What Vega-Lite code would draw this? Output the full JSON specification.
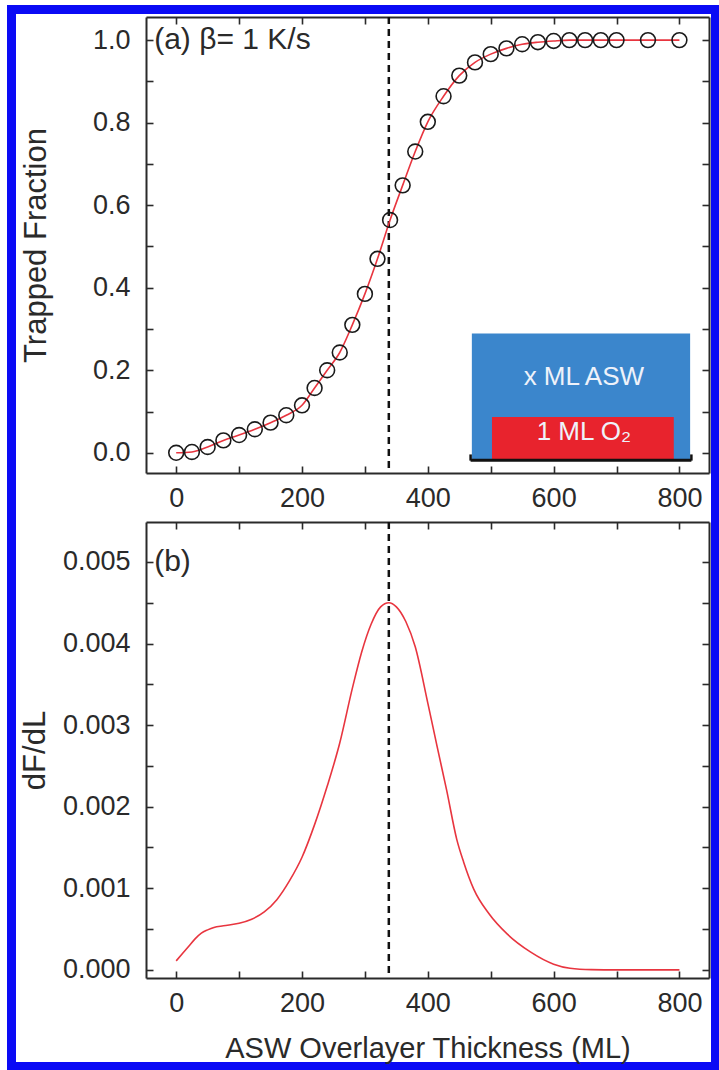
{
  "$schema": "https://vega.github.io/schema/vega-lite/v6.json",
  "autosize": "none",
  "padding": {"left": 146, "top": 17, "right": 573, "bottom": 1053},
  "background": "white",
  "config": {
    "font": "Liberation Sans",
    "view": {"stroke": null},
    "legend": {"strokeColor": "#0a0af5", "strokeWidth": 9, "padding": 0},
    "axis": {
      "grid": false,
      "domainColor": "#2a2a2a",
      "domainWidth": 2,
      "tickColor": "#2a2a2a",
      "tickWidth": 1.6,
      "tickSize": -7,
      "labelFont": "Liberation Sans",
      "labelFontSize": 27,
      "labelColor": "#2a2a2a",
      "labelOverlap": false,
      "labelFlush": false,
      "titleFont": "Liberation Sans",
      "titleFontSize": 29,
      "titleFontWeight": "normal",
      "titleColor": "#2a2a2a"
    }
  },
  "datasets": {
    "frac": [
      {"thickness": 0, "fraction": 0.0},
      {"thickness": 25, "fraction": 0.002},
      {"thickness": 50, "fraction": 0.014},
      {"thickness": 75, "fraction": 0.030},
      {"thickness": 100, "fraction": 0.043},
      {"thickness": 125, "fraction": 0.057},
      {"thickness": 150, "fraction": 0.073},
      {"thickness": 175, "fraction": 0.091},
      {"thickness": 200, "fraction": 0.115},
      {"thickness": 220, "fraction": 0.157},
      {"thickness": 240, "fraction": 0.200},
      {"thickness": 260, "fraction": 0.243},
      {"thickness": 280, "fraction": 0.310},
      {"thickness": 300, "fraction": 0.385},
      {"thickness": 320, "fraction": 0.470},
      {"thickness": 340, "fraction": 0.564},
      {"thickness": 360, "fraction": 0.648},
      {"thickness": 380, "fraction": 0.730},
      {"thickness": 400, "fraction": 0.802},
      {"thickness": 425, "fraction": 0.864},
      {"thickness": 450, "fraction": 0.914},
      {"thickness": 475, "fraction": 0.946},
      {"thickness": 500, "fraction": 0.966},
      {"thickness": 525, "fraction": 0.980},
      {"thickness": 550, "fraction": 0.990},
      {"thickness": 575, "fraction": 0.995},
      {"thickness": 600, "fraction": 0.998},
      {"thickness": 625, "fraction": 1.0},
      {"thickness": 650, "fraction": 1.0},
      {"thickness": 675, "fraction": 1.0},
      {"thickness": 700, "fraction": 1.0},
      {"thickness": 750, "fraction": 1.0},
      {"thickness": 800, "fraction": 1.0}
    ],
    "deriv": [
      {"thickness": 0, "dfdl": 0.00011},
      {"thickness": 10, "dfdl": 0.0002},
      {"thickness": 20, "dfdl": 0.00029},
      {"thickness": 30, "dfdl": 0.00038},
      {"thickness": 40, "dfdl": 0.00045},
      {"thickness": 50, "dfdl": 0.00049},
      {"thickness": 60, "dfdl": 0.00052},
      {"thickness": 75, "dfdl": 0.00054},
      {"thickness": 100, "dfdl": 0.00057},
      {"thickness": 120, "dfdl": 0.00062},
      {"thickness": 140, "dfdl": 0.00071},
      {"thickness": 160, "dfdl": 0.00086},
      {"thickness": 180, "dfdl": 0.00109},
      {"thickness": 200, "dfdl": 0.00138},
      {"thickness": 220, "dfdl": 0.00178},
      {"thickness": 240, "dfdl": 0.00225},
      {"thickness": 260, "dfdl": 0.00278},
      {"thickness": 280, "dfdl": 0.00345},
      {"thickness": 295, "dfdl": 0.0039},
      {"thickness": 310, "dfdl": 0.00424},
      {"thickness": 325, "dfdl": 0.00445},
      {"thickness": 338, "dfdl": 0.0045},
      {"thickness": 350, "dfdl": 0.00445},
      {"thickness": 365, "dfdl": 0.00427},
      {"thickness": 380, "dfdl": 0.00396},
      {"thickness": 400, "dfdl": 0.00327},
      {"thickness": 415, "dfdl": 0.00273},
      {"thickness": 430, "dfdl": 0.0022},
      {"thickness": 446, "dfdl": 0.0016},
      {"thickness": 457, "dfdl": 0.00132},
      {"thickness": 473, "dfdl": 0.00099},
      {"thickness": 497, "dfdl": 0.00069},
      {"thickness": 526, "dfdl": 0.00044},
      {"thickness": 563, "dfdl": 0.00022},
      {"thickness": 600, "dfdl": 0.00007},
      {"thickness": 626, "dfdl": 0.00002},
      {"thickness": 660, "dfdl": 0.000003},
      {"thickness": 700, "dfdl": 0.0},
      {"thickness": 800, "dfdl": 0.0}
    ],
    "insetBoxes": [
      {"layer": "x ML ASW", "x1": 470, "x2": 817, "y1": -0.016, "y2": 0.289, "colour": "blue"},
      {"layer": "1 ML O2", "x1": 502, "x2": 791, "y1": -0.016, "y2": 0.087, "colour": "red"}
    ],
    "insetLabels": [
      {"label": "x ML ASW", "x": 648, "y": 0.183},
      {"label": "1 ML O₂", "x": 648, "y": 0.05}
    ],
    "substrate": [
      {"x1": 468, "x2": 819, "y": -0.018}
    ],
    "substrateEnds": [
      {"x": 468, "y1": -0.019, "y2": -0.004},
      {"x": 819, "y1": -0.019, "y2": -0.004}
    ],
    "panelA": [{"label": "(a) β= 1 K/s", "x": -35, "y": 1.0}],
    "panelB": [{"label": "(b)", "x": -35, "y": 0.005}],
    "peak": [{"thickness": 338}]
  },
  "bounds": "flush",
  "spacing": 49,
  "vconcat": [
    {
      "width": 563,
      "height": 456,
      "resolve": {"axis": {"x": "independent", "y": "independent"}},
      "layer": [
        {
          "data": {"name": "insetBoxes"},
          "mark": {"type": "rect"},
          "encoding": {
            "x": {"field": "x1", "type": "quantitative", "scale": {"domain": [-48, 847], "nice": false, "zero": false}, "axis": null},
            "x2": {"field": "x2"},
            "y": {"field": "y1", "type": "quantitative", "scale": {"domain": [-0.049, 1.056], "nice": false, "zero": false}, "axis": null},
            "y2": {"field": "y2"},
            "color": {"field": "colour", "type": "nominal", "scale": {"domain": ["blue", "red"], "range": ["#3b86cc", "#e8232d"]}, "legend": null}
          }
        },
        {
          "data": {"name": "substrate"},
          "mark": {"type": "rule", "color": "#111111", "strokeWidth": 3},
          "encoding": {
            "x": {"field": "x1", "type": "quantitative", "scale": {"domain": [-48, 847], "nice": false, "zero": false}, "axis": null},
            "x2": {"field": "x2"},
            "y": {"field": "y", "type": "quantitative", "scale": {"domain": [-0.049, 1.056], "nice": false, "zero": false}, "axis": null}
          }
        },
        {
          "data": {"name": "substrateEnds"},
          "mark": {"type": "rule", "color": "#111111", "strokeWidth": 2.5},
          "encoding": {
            "x": {"field": "x", "type": "quantitative", "scale": {"domain": [-48, 847], "nice": false, "zero": false}, "axis": null},
            "y": {"field": "y1", "type": "quantitative", "scale": {"domain": [-0.049, 1.056], "nice": false, "zero": false}, "axis": null},
            "y2": {"field": "y2"}
          }
        },
        {
          "data": {"name": "insetLabels"},
          "mark": {"type": "text", "color": "#eef2fa", "fontSize": 26, "font": "Liberation Sans", "align": "center", "baseline": "middle"},
          "encoding": {
            "x": {"field": "x", "type": "quantitative", "scale": {"domain": [-48, 847], "nice": false, "zero": false}, "axis": null},
            "y": {"field": "y", "type": "quantitative", "scale": {"domain": [-0.049, 1.056], "nice": false, "zero": false}, "axis": null},
            "text": {"field": "label"}
          }
        },
        {
          "data": {"name": "peak"},
          "mark": {"type": "rule", "strokeWidth": 2.5, "strokeDash": [7, 5]},
          "encoding": {
            "x": {"field": "thickness", "type": "quantitative", "scale": {"domain": [-48, 847], "nice": false, "zero": false}, "axis": null},
            "color": {
              "field": "thickness", "type": "quantitative",
              "scale": {"domain": [0, 1000], "range": ["#111111", "#111111"]},
              "legend": {
                "orient": "none", "legendX": -134.5, "legendY": -7.5,
                "direction": "vertical", "title": null, "values": [],
                "gradientLength": 1057, "gradientThickness": 704, "gradientOpacity": 0
              }
            }
          }
        },
        {
          "data": {"name": "frac"},
          "mark": {"type": "line", "color": "#e8353f", "strokeWidth": 1.6, "interpolate": "monotone"},
          "encoding": {
            "x": {"field": "thickness", "type": "quantitative", "scale": {"domain": [-48, 847], "nice": false, "zero": false},
                  "axis": {"orient": "bottom", "values": [0, 100, 200, 300, 400, 500, 600, 700, 800], "labelExpr": "datum.value % 200 == 0 ? datum.label : ''", "title": null, "labelPadding": 19}},
            "y": {"field": "fraction", "type": "quantitative", "scale": {"domain": [-0.049, 1.056], "nice": false, "zero": false},
                  "axis": {"orient": "left", "values": [0, 0.1, 0.2, 0.3, 0.4, 0.5, 0.6, 0.7, 0.8, 0.9, 1.0], "labelExpr": "round(datum.value * 10) % 2 == 0 ? format(datum.value, '.1f') : ''", "title": "Trapped Fraction", "titleFontSize": 31, "labelPadding": 23, "titlePadding": 40}}
          }
        },
        {
          "data": {"name": "frac"},
          "mark": {"type": "point", "shape": "circle", "size": 220, "filled": false, "stroke": "#1a1a1a", "strokeWidth": 1.6, "opacity": 1},
          "encoding": {
            "x": {"field": "thickness", "type": "quantitative", "scale": {"domain": [-48, 847], "nice": false, "zero": false},
                  "axis": {"orient": "top", "values": [0, 100, 200, 300, 400, 500, 600, 700, 800], "labels": false, "title": null}},
            "y": {"field": "fraction", "type": "quantitative", "scale": {"domain": [-0.049, 1.056], "nice": false, "zero": false},
                  "axis": {"orient": "right", "values": [0, 0.1, 0.2, 0.3, 0.4, 0.5, 0.6, 0.7, 0.8, 0.9, 1.0], "labels": false, "title": null}}
          }
        },
        {
          "data": {"name": "panelA"},
          "mark": {"type": "text", "color": "#2a2a2a", "fontSize": 30, "font": "Liberation Sans", "align": "left", "baseline": "middle"},
          "encoding": {
            "x": {"field": "x", "type": "quantitative", "scale": {"domain": [-48, 847], "nice": false, "zero": false}, "axis": null},
            "y": {"field": "y", "type": "quantitative", "scale": {"domain": [-0.049, 1.056], "nice": false, "zero": false}, "axis": null},
            "text": {"field": "label"}
          }
        }
      ]
    },
    {
      "width": 563,
      "height": 456,
      "resolve": {"axis": {"x": "independent", "y": "independent"}},
      "layer": [
        {
          "data": {"name": "peak"},
          "mark": {"type": "rule", "color": "#111111", "strokeWidth": 2.5, "strokeDash": [7, 5]},
          "encoding": {
            "x": {"field": "thickness", "type": "quantitative", "scale": {"domain": [-48, 847], "nice": false, "zero": false}, "axis": null}
          }
        },
        {
          "data": {"name": "deriv"},
          "mark": {"type": "line", "color": "#e8353f", "strokeWidth": 1.6, "interpolate": "monotone"},
          "encoding": {
            "x": {"field": "thickness", "type": "quantitative", "scale": {"domain": [-48, 847], "nice": false, "zero": false},
                  "axis": {"orient": "bottom", "values": [0, 100, 200, 300, 400, 500, 600, 700, 800], "labelExpr": "datum.value % 200 == 0 ? datum.label : ''", "title": "ASW Overlayer Thickness (ML)", "labelPadding": 19, "titlePadding": 18}},
            "y": {"field": "dfdl", "type": "quantitative", "scale": {"domain": [-0.0001, 0.00549], "nice": false, "zero": false},
                  "axis": {"orient": "left", "values": [0, 0.0005, 0.001, 0.0015, 0.002, 0.0025, 0.003, 0.0035, 0.004, 0.0045, 0.005], "labelExpr": "round(datum.value * 2000) % 2 == 0 ? format(datum.value, '.3f') : ''", "title": "dF/dL", "titleFontSize": 31, "labelPadding": 23, "titlePadding": 11}}
          }
        },
        {
          "data": {"name": "panelB"},
          "mark": {"type": "text", "color": "#2a2a2a", "fontSize": 30, "font": "Liberation Sans", "align": "left", "baseline": "middle"},
          "encoding": {
            "x": {"field": "x", "type": "quantitative", "scale": {"domain": [-48, 847], "nice": false, "zero": false},
                  "axis": {"orient": "top", "values": [0, 100, 200, 300, 400, 500, 600, 700, 800], "labels": false, "title": null}},
            "y": {"field": "y", "type": "quantitative", "scale": {"domain": [-0.0001, 0.00549], "nice": false, "zero": false},
                  "axis": {"orient": "right", "values": [0, 0.0005, 0.001, 0.0015, 0.002, 0.0025, 0.003, 0.0035, 0.004, 0.0045, 0.005], "labels": false, "title": null}},
            "text": {"field": "label"}
          }
        }
      ]
    }
  ]
}
